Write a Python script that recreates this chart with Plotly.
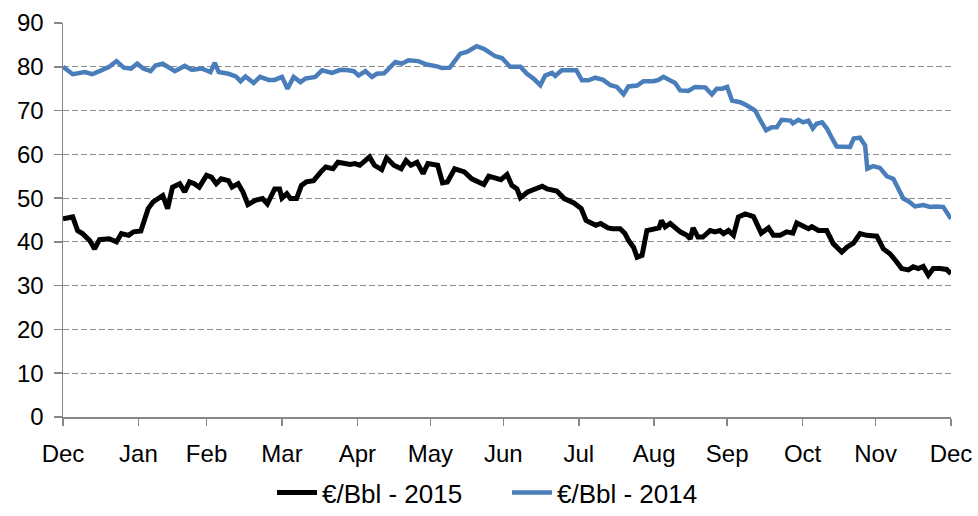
import plotly.graph_objects as go

# Days since the start of the axis (Dec) and values
days_2015 = [0, 4, 6, 8, 11, 13, 15, 19, 22, 24, 27, 29, 32, 35, 37, 39, 41, 43, 45, 48,
             50, 52, 54, 56, 59, 61, 63, 65, 68, 69.5, 72, 74, 76, 79, 82, 84, 87, 89, 90, 92,
             93.5, 96, 98, 100, 103, 106, 108, 111, 113, 116, 118, 120, 122, 126, 128, 131, 133, 136, 139, 141,
             143, 145.5, 148, 150, 154, 156, 158, 161, 165, 168, 173, 175, 180, 182.5, 184.5, 186.6, 188, 191, 193, 197,
             199, 203, 206, 210, 213, 215, 219, 221, 224, 226, 229, 231, 232.5, 234.5, 236, 238, 240, 243, 245, 246,
             247.5, 249.6, 251.6, 253.7, 256.4, 257.8, 259, 261, 263, 266, 268, 270, 271.5, 273.5, 275.6, 277.6, 280.4, 283.8, 287, 290,
             292, 294.8, 297.5, 300, 301.6, 304.3, 306.4, 307.8, 310.5, 313.9, 316.6, 320.1, 322.2, 324.9, 327.6, 330.4, 334.5, 337.2, 339.9, 342.7,
             344.7, 347.5, 349.5, 351.6, 353.6, 355.7, 357.7, 360.5, 363.2, 365]
eur_bbl_2015 = [45.3, 45.7, 42.6, 41.9, 40.3, 38.4, 40.5, 40.7, 40.0, 41.9, 41.5, 42.3, 42.5, 47.6, 49.1, 49.9, 50.6, 47.6, 52.5, 53.3,
                51.4, 53.7, 53.3, 52.5, 55.2, 54.8, 53.3, 54.4, 54.0, 52.5, 53.3, 51.4, 48.5, 49.5, 49.9, 48.7, 52.1, 52.1, 50.0, 51.0,
                49.9, 49.9, 52.9, 53.7, 54.0, 56.0, 57.1, 56.7, 58.2, 57.9, 57.7, 57.9, 57.5, 59.4, 57.5, 56.5, 59.2, 57.5, 56.7, 58.6,
                57.5, 58.2, 55.6, 57.9, 57.5, 53.5, 53.7, 56.7, 56.0, 54.4, 53.1, 55.0, 54.2, 55.4, 52.9, 52.1, 50.1, 51.4, 51.9, 52.7,
                52.1, 51.6, 49.9, 48.9, 47.6, 44.9, 43.8, 44.2, 43.2, 43.0, 43.0, 41.9, 40.3, 38.8, 36.5, 36.9, 42.6, 43.0, 43.2, 44.9,
                43.4, 44.2, 43.2, 42.3, 41.5, 40.7, 43.2, 41.1, 41.1, 42.6, 42.3, 42.6, 41.9, 42.6, 41.5, 45.7, 46.4, 45.8, 42.0, 43.2,
                41.5, 41.5, 42.3, 42.0, 44.3, 43.5, 43.0, 43.5, 42.6, 42.6, 39.6, 37.7, 38.8, 39.7, 41.9, 41.5, 41.3, 38.4, 37.3, 35.4,
                33.9, 33.6, 34.3, 33.9, 34.4, 32.4, 33.9, 33.9, 33.7, 32.7]

days_2014 = [0, 4, 9, 12, 15, 19, 22, 25, 28, 30.5, 33, 36, 38, 41, 46, 50, 53, 57, 60.6, 62.4,
             64, 68, 71, 73, 75, 78.4, 81, 84.5, 87, 90, 92.3, 94.8, 97.6, 99.6, 103.7, 106.5, 110.6, 114, 117.4, 119.5,
             121.5, 124.3, 127, 129, 132, 136.6, 139.3, 142, 146, 149.6, 153.7, 155.8, 159, 160.5, 163.3, 166, 170, 173, 175, 177.7,
             180.4, 183.8, 188, 190.7, 193.4, 196.2, 198.2, 201, 202.3, 205, 208.5, 211, 213.3, 216, 218.8, 222, 225, 227.7, 230.4, 232.4,
             236, 238.6, 242.7, 244.8, 246.8, 249.6, 251.6, 253.7, 257, 259.8, 264, 266.7, 268.7, 271, 273, 275, 278.3, 281, 284.5, 286.5,
             289, 291.3, 293.4, 295.4, 299, 300, 302.3, 304.3, 306.4, 308.2, 309.8, 312, 314, 316, 318, 323.5, 325, 327.6, 329.7, 330.6,
             333, 335.8, 338.6, 341.3, 343.3, 345.4, 347.5, 350.2, 353.6, 356.4, 358.4, 361.8, 363.2, 365]
eur_bbl_2014 = [80.0, 78.3, 78.8, 78.3, 79.0, 80.0, 81.3, 79.8, 79.6, 80.7, 79.6, 79.0, 80.3, 80.7, 79.0, 80.2, 79.3, 79.6, 78.8, 80.9,
                78.8, 78.4, 77.8, 76.7, 77.8, 76.3, 77.7, 77.0, 77.0, 77.7, 75.0, 77.7, 76.5, 77.3, 77.7, 79.2, 78.6, 79.3, 79.2, 79.0,
                78.0, 79.0, 77.7, 78.4, 78.5, 81.1, 80.7, 81.5, 81.3, 80.5, 80.1, 79.7, 79.8, 80.9, 83.0, 83.4, 84.7, 84.1, 83.4, 82.4,
                82.0, 80.0, 80.0, 78.4, 77.3, 75.8, 78.0, 78.6, 77.9, 79.2, 79.2, 79.2, 76.9, 76.9, 77.5, 77.0, 75.8, 75.4, 73.7, 75.5,
                75.7, 76.7, 76.7, 77.0, 77.7, 77.0, 76.3, 74.6, 74.5, 75.4, 75.3, 73.7, 75.0, 75.0, 75.4, 72.3, 71.9, 71.2, 70.0, 67.9,
                65.5, 66.2, 66.2, 67.9, 67.7, 67.1, 67.9, 67.3, 67.7, 65.9, 67.0, 67.3, 65.9, 63.8, 61.8, 61.7, 63.6, 63.8, 62.0, 56.7,
                57.3, 56.9, 55.0, 54.4, 52.1, 49.9, 49.3, 48.1, 48.4, 48.0, 48.1, 48.0, 46.8, 45.3]

month_tick_days = [0, 31, 59, 90, 121, 151, 181, 212, 243, 273, 304, 334, 365]
month_labels = ["Dec", "Jan", "Feb", "Mar", "Apr", "May", "Jun", "Jul", "Aug", "Sep", "Oct", "Nov", "Dec"]
y_ticks = [0, 10, 20, 30, 40, 50, 60, 70, 80, 90]

fig = go.Figure()
fig.add_trace(go.Scatter(x=days_2015, y=eur_bbl_2015, mode="lines", name="€/Bbl - 2015",
                         line=dict(color="#000000", width=5)))
fig.add_trace(go.Scatter(x=days_2014, y=eur_bbl_2014, mode="lines", name="€/Bbl - 2014",
                         line=dict(color="#4A7EBB", width=4.5)))

font_family = "Liberation Sans, Arial, sans-serif"
fig.update_layout(
    width=978, height=516,
    margin=dict(l=63, r=27, t=23, b=99, autoexpand=False),
    paper_bgcolor="white", plot_bgcolor="white",
    font=dict(family=font_family, size=24, color="#000000"),
    showlegend=True,
    legend=dict(orientation="h", x=0.5, xanchor="center", y=-0.2513, yanchor="bottom",
                font=dict(size=26), itemwidth=40, entrywidth=180, traceorder="normal",
                bgcolor="rgba(0,0,0,0)"),
    xaxis=dict(range=[0, 365], tickmode="array", tickvals=month_tick_days, ticktext=month_labels,
               showgrid=False, zeroline=False, showline=True, linecolor="#868686", linewidth=1.5,
               ticks="outside", ticklen=7, tickcolor="#868686", tickwidth=1.5,
               ticklabelstandoff=8, ticklabeloverflow="allow", automargin=False, fixedrange=True),
    yaxis=dict(range=[0, 90], tickmode="array", tickvals=y_ticks,
               showgrid=True, gridcolor="#8C8C8C", gridwidth=1, griddash="6px,3px",
               zeroline=False, showline=True, linecolor="#868686", linewidth=1.5,
               ticks="outside", ticklen=8, tickcolor="#868686", tickwidth=1.5,
               ticklabelstandoff=5, ticklabeloverflow="allow", automargin=False, fixedrange=True),
)
# Remove the default 8px page margin so the figure fills the window exactly
fig.write_html("out.html", config={"displayModeBar": False, "staticPlot": True},
               post_script="document.body.style.margin='0';document.body.style.overflow='hidden';")
